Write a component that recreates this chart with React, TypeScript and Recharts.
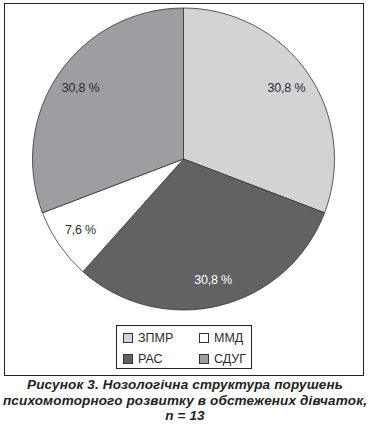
import { Cell, Pie, PieChart } from 'recharts';

const categories = ['ЗПМР', 'РАС', 'ММД', 'СДУГ'];
const shares = [30.8, 30.8, 7.6, 30.8];
const shareLabels = ['30,8 %', '30,8 %', '7,6 %', '30,8 %'];
const colors = ['#d3d3d5', '#626264', '#ffffff', '#9d9ea1'];
const labelColors = ['#2b2b2b', '#ffffff', '#2b2b2b', '#2b2b2b'];
// legend is laid out row by row: ЗПМР, ММД / РАС, СДУГ
const legendOrder = [0, 2, 1, 3];

const data = categories.map((name, i) => ({ name, value: shares[i], label: shareLabels[i] }));

const RAD = Math.PI / 180;

function SliceLabel(props: any) {
  const { cx, cy, midAngle, index } = props;
  const r = 125;
  const x = cx + r * Math.cos(-midAngle * RAD);
  const y = cy + r * Math.sin(-midAngle * RAD);
  return (
    <text x={x} y={y} fill={labelColors[index]} textAnchor="middle" dominantBaseline="central"
      fontSize={12.5} letterSpacing={-0.2} fontFamily="'Liberation Sans', Arial, sans-serif">
      {data[index].label}
    </text>
  );
}

export default function App() {
  return (
    <div style={{ position: 'absolute', left: 0, top: 0, width: 370, height: 433, background: '#fff', fontFamily: "'Liberation Sans', Arial, sans-serif" }}>
      <div style={{ position: 'absolute', left: 4, top: 3, width: 358, height: 371, border: '1px solid #222' }} />
      <div style={{ position: 'absolute', left: 0, top: 0 }}>
        <PieChart width={370} height={378} margin={{ top: 0, right: 0, bottom: 0, left: 0 }}>
          <Pie data={data} dataKey="value" nameKey="name" cx={183.5} cy={159} outerRadius={151}
            startAngle={90} endAngle={-270} stroke="#333" strokeWidth={0.8}
            label={SliceLabel} labelLine={false} isAnimationActive={false}>
            {data.map((d, i) => (
              <Cell key={d.name} fill={colors[i]} />
            ))}
          </Pie>
        </PieChart>
      </div>
      <div style={{ position: 'absolute', left: 116, top: 325, width: 136, height: 44, border: '1px solid #222',
        display: 'grid', gridTemplateColumns: '76px 58px', gridTemplateRows: '21px 21px', paddingTop: 1, boxSizing: 'border-box' }}>
        {legendOrder.map((i) => (
          <div key={categories[i]} style={{ display: 'flex', alignItems: 'center', paddingLeft: 6, fontSize: 12.5, color: '#2b2b2b' }}>
            <span style={{ width: 8, height: 8, border: '1px solid #333', background: colors[i], marginRight: 5, display: 'inline-block' }} />
            {categories[i]}
          </div>
        ))}
      </div>
      <div style={{ position: 'absolute', left: 0, top: 377, width: 370, textAlign: 'center', fontWeight: 'bold', fontStyle: 'italic',
        fontSize: 13.5, letterSpacing: 0.15, lineHeight: '15.5px', color: '#222', whiteSpace: 'nowrap' }}>
        Рисунок 3. Нозологічна структура порушень<br />
        психомоторного розвитку в обстежених дівчаток,<br />
        n = 13
      </div>
    </div>
  );
}
